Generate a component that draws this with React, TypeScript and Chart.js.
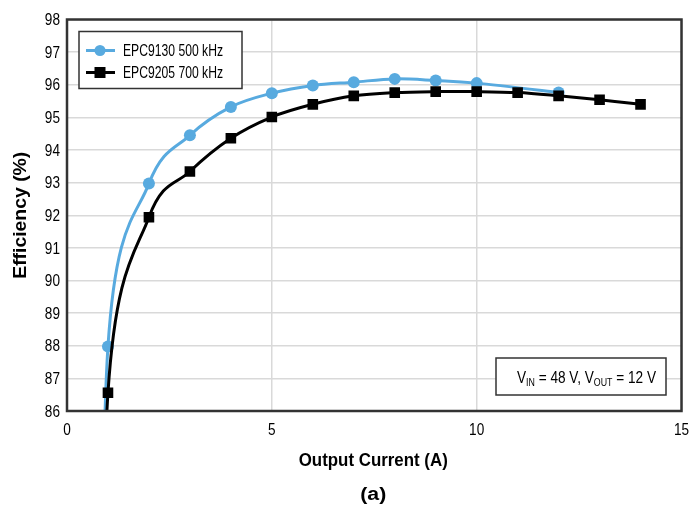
import React, { useEffect, useRef } from "react";
import { Chart, registerables } from "chart.js";

Chart.register(...registerables);

// ---- data ----
const blueCurrent = [0.8, 1, 2, 3, 4, 5, 6, 7, 8, 9, 10, 12];
const blueEff = [70, 87.98, 92.97, 94.45, 95.32, 95.74, 95.98, 96.08, 96.18, 96.13, 96.05, 95.76];
const blueMarker = [0, 6, 6, 6, 6, 6, 6, 6, 6, 6, 6, 6];

const blackCurrent = [0.8, 1, 2, 3, 4, 5, 6, 7, 8, 9, 10, 11, 12, 13, 14];
const blackEff = [69, 86.56, 91.94, 93.34, 94.36, 95.01, 95.4, 95.66, 95.76, 95.79, 95.79, 95.76, 95.66, 95.54, 95.4];
const blackMarker = [0, 7.5, 7.5, 7.5, 7.5, 7.5, 7.5, 7.5, 7.5, 7.5, 7.5, 7.5, 7.5, 7.5, 7.5];

const seriesLabels = ["EPC9130 500 kHz", "EPC9205 700 kHz"];
const xTitle = "Output Current (A)";
const yTitle = "Efficiency (%)";
const caption = "(a)";
const noteParts = [
  { t: "V", sub: false },
  { t: "IN", sub: true },
  { t: " = 48 V, V", sub: false },
  { t: "OUT", sub: true },
  { t: " = 12 V", sub: false },
];

const FONT = "'Liberation Sans', Arial, sans-serif";
const BLUE = "#58aadf";
const BLACK = "#000000";
const FRAME = "#333333";

function drawText(
  ctx: CanvasRenderingContext2D,
  text: string,
  x: number,
  y: number,
  font: string,
  opts: { align?: CanvasTextAlign; baseline?: CanvasTextBaseline; width?: number; sx?: number; rotate?: number }
) {
  ctx.save();
  ctx.font = font;
  const w = ctx.measureText(text).width;
  const s = opts.width ? opts.width / w : opts.sx ?? 1;
  ctx.translate(x, y);
  if (opts.rotate) ctx.rotate(opts.rotate);
  ctx.scale(s, 1);
  ctx.textAlign = opts.align ?? "left";
  ctx.textBaseline = opts.baseline ?? "middle";
  ctx.fillStyle = "#000";
  ctx.fillText(text, 0, 0);
  ctx.restore();
}

// Smooth (Catmull-Rom style) curve through the points the line controller placed
const smoothPlugin = {
  id: "smooth",
  beforeDatasetDraw(chart: any, args: any) {
    const meta = args.meta;
    const line = meta.dataset;
    if (!line) return;
    if (typeof line.updateControlPoints === "function") {
      line.updateControlPoints(chart.chartArea, meta.iScale.axis);
    }
    const pts = meta.data;
    for (let i = 0; i < pts.length; i++) {
      const p = pts[i];
      const a = pts[Math.max(0, i - 1)];
      const b = pts[Math.min(pts.length - 1, i + 1)];
      const dx = (b.x - a.x) / 6;
      const dy = (b.y - a.y) / 6;
      p.cp1x = p.x - dx;
      p.cp1y = p.y - dy;
      p.cp2x = p.x + dx;
      p.cp2y = p.y + dy;
    }
    line._path = undefined;
  },
};

const overlayPlugin = {
  id: "overlay",
  afterDatasetsDraw(chart: any) {
    const { ctx, chartArea } = chart;
    const { left, top, right, bottom } = chartArea;
    const xs = chart.scales.x;
    const ys = chart.scales.y;
    ctx.save();
    // frame
    ctx.strokeStyle = FRAME;
    ctx.lineWidth = 2.5;
    ctx.strokeRect(left, top, right - left, bottom - top);

    // tick labels (from the library's ticks)
    const tickFont = `17px ${FONT}`;
    ys.ticks.forEach((t: any) => {
      drawText(ctx, String(t.value), left - 7, ys.getPixelForValue(t.value) + 1, tickFont, {
        align: "right",
        sx: 0.8,
      });
    });
    xs.ticks.forEach((t: any) => {
      drawText(ctx, String(t.value), xs.getPixelForValue(t.value), bottom + 19, tickFont, {
        align: "center",
        sx: 0.8,
      });
    });

    // axis titles and caption
    const boldFont = `bold 18px ${FONT}`;
    drawText(ctx, xTitle, (left + right) / 2 - 1, bottom + 50, boldFont, { align: "center", width: 149 });
    drawText(ctx, caption, (left + right) / 2 - 1, bottom + 84, boldFont, { align: "center", width: 26 });
    drawText(ctx, yTitle, 21, (top + bottom) / 2, boldFont, {
      align: "center",
      width: 127,
      rotate: -Math.PI / 2,
    });

    // legend box
    const lx = left + 12;
    const ly = top + 12;
    const lw = 163;
    const lh = 57;
    ctx.fillStyle = "#ffffff";
    ctx.fillRect(lx, ly, lw, lh);
    ctx.strokeStyle = FRAME;
    ctx.lineWidth = 1.5;
    ctx.strokeRect(lx, ly, lw, lh);
    const rows = [
      { color: BLUE, style: "circle", y: ly + 19 },
      { color: BLACK, style: "square", y: ly + 41 },
    ];
    rows.forEach((r, i) => {
      ctx.strokeStyle = r.color;
      ctx.lineWidth = 3;
      ctx.beginPath();
      ctx.moveTo(lx + 7, r.y);
      ctx.lineTo(lx + 36, r.y);
      ctx.stroke();
      ctx.fillStyle = r.color;
      const cx = lx + 21;
      if (r.style === "circle") {
        ctx.beginPath();
        ctx.arc(cx, r.y, 5.5, 0, Math.PI * 2);
        ctx.fill();
      } else {
        ctx.fillRect(cx - 5.5, r.y - 5.5, 11, 11);
      }
      drawText(ctx, seriesLabels[i], lx + 44, r.y + 1, `17px ${FONT}`, { width: 100 });
    });

    // annotation box
    const ax = 496;
    const ay = 358;
    const aw = 170;
    const ah = 37;
    ctx.fillStyle = "#ffffff";
    ctx.fillRect(ax, ay, aw, ah);
    ctx.strokeStyle = FRAME;
    ctx.lineWidth = 1.5;
    ctx.strokeRect(ax, ay, aw, ah);
    const mainFont = `17px ${FONT}`;
    const subFont = `11px ${FONT}`;
    let total = 0;
    noteParts.forEach((p) => {
      ctx.font = p.sub ? subFont : mainFont;
      total += ctx.measureText(p.t).width;
    });
    const s = 139 / total;
    ctx.save();
    ctx.translate(ax + 21, ay + ah / 2 + 6);
    ctx.scale(s, 1);
    ctx.textBaseline = "alphabetic";
    ctx.textAlign = "left";
    ctx.fillStyle = "#000";
    let x = 0;
    noteParts.forEach((p) => {
      ctx.font = p.sub ? subFont : mainFont;
      ctx.fillText(p.t, x, p.sub ? 3 : 0);
      x += ctx.measureText(p.t).width;
    });
    ctx.restore();
    ctx.restore();
  },
};

export default function App() {
  const ref = useRef<HTMLCanvasElement | null>(null);
  useEffect(() => {
    if (!ref.current) return;
    const chart = new Chart(ref.current, {
      type: "line",
      data: {
        datasets: [
          {
            label: seriesLabels[0],
            data: blueCurrent.map((x, i) => ({ x, y: blueEff[i] })),
            borderColor: BLUE,
            backgroundColor: BLUE,
            borderWidth: 3,
            pointRadius: blueMarker,
            pointHoverRadius: blueMarker,
            pointStyle: "circle",
            pointBorderWidth: 0,
            tension: 0.4,
            fill: false,
            order: 1,
          },
          {
            label: seriesLabels[1],
            data: blackCurrent.map((x, i) => ({ x, y: blackEff[i] })),
            borderColor: BLACK,
            backgroundColor: BLACK,
            borderWidth: 3,
            pointRadius: blackMarker,
            pointHoverRadius: blackMarker,
            pointStyle: "rect",
            pointBorderWidth: 0,
            tension: 0.4,
            fill: false,
            order: 0,
          },
        ],
      },
      options: {
        animation: false,
        responsive: false,
        maintainAspectRatio: false,
        layout: { padding: { top: 19.5, left: 6, right: 7, bottom: 31 } },
        plugins: {
          legend: { display: false },
          tooltip: { enabled: false },
          title: { display: false },
        },
        scales: {
          x: {
            type: "linear",
            min: 0,
            max: 15,
            ticks: { stepSize: 5, display: false },
            grid: { color: "#d9d9d9", lineWidth: 1.5, drawTicks: false },
            border: { display: false },
            title: { display: false },
            afterFit: (sc: any) => {
              sc.height = 64;
            },
          },
          y: {
            type: "linear",
            min: 86,
            max: 98,
            ticks: { stepSize: 1, display: false },
            grid: { color: "#d9d9d9", lineWidth: 1.5, drawTicks: false },
            border: { display: false },
            title: { display: false },
            afterFit: (sc: any) => {
              sc.width = 61;
            },
          },
        },
      },
      plugins: [smoothPlugin, overlayPlugin],
    });
    return () => chart.destroy();
  }, []);
  return (
    <div style={{ position: "absolute", left: 0, top: 0, width: 689, height: 506, background: "#fff" }}>
      <canvas ref={ref} width={689} height={506} style={{ width: 689, height: 506, display: "block" }} />
    </div>
  );
}
